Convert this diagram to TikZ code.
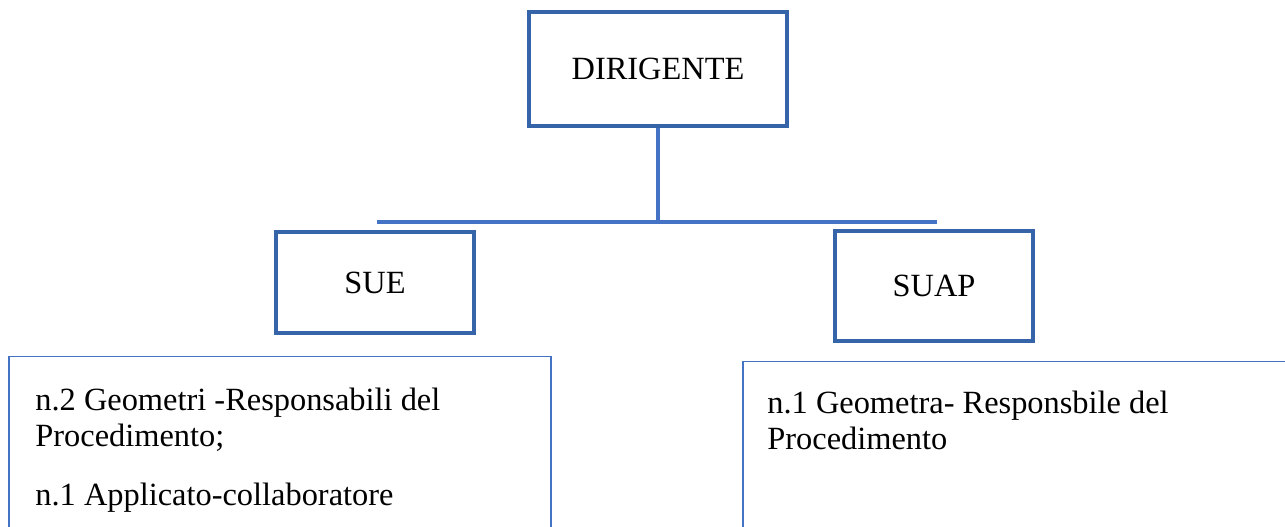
\documentclass[tikz,border=0pt]{standalone}
\usepackage{fontspec}
\setmainfont{Liberation Serif}
\definecolor{boxblue}{RGB}{54,100,168}
\definecolor{lineblue}{RGB}{68,114,196}
\begin{document}
\begin{tikzpicture}[x=0.5pt,y=-0.5pt,
  thickbox/.style={draw=boxblue,line width=2pt,inner sep=0pt},
  thinbox/.style={draw=lineblue,line width=0.8pt,inner sep=0pt,anchor=north west},
  conn/.style={draw=lineblue,line width=1.6pt},
  txt/.style={font=\fontsize{16.2}{18}\selectfont,inner sep=0pt},
  bodytxt/.style={txt,anchor=base west}]
\clip (0,0) rectangle (1285,526);
\fill[white] (0,0) rectangle (1285,526);
% top box
\node[thickbox,minimum width=129pt,minimum height=57pt] (dir) at (658,69) {};
\node[txt] (dirt) at (dir.center) {DIRIGENTE};
% second-level boxes
\node[thickbox,minimum width=99pt,minimum height=50.5pt] (sue) at (375,282.5) {};
\node[txt] (suet) at (sue.center) {SUE};
\node[thickbox,minimum width=99pt,minimum height=55pt] (suap) at (934,286) {};
\node[txt] (suapt) at (suap.center) {SUAP};
% connectors
\coordinate (jn) at (658,222);
\coordinate (hl) at (377,222);
\coordinate (hr) at (937,222);
\draw[conn] (dir.south) -- (jn);
\draw[conn] (hl) -- (hr);
% bottom boxes
\node[thinbox,minimum width=271pt,minimum height=100pt] (suebox) at (8,355.5) {};
\node[thinbox,minimum width=275pt,minimum height=100pt] (suapbox) at (742,360.5) {};
\node[bodytxt] (l1) at (35,410) {n.2 Geometri -Responsabili del};
\node[bodytxt] (l2) at (35,446) {Procedimento;};
\node[bodytxt] (l3) at (35,505) {n.1 Applicato-collaboratore};
\node[bodytxt] (r1) at (767,413) {n.1 Geometra- Responsbile del};
\node[bodytxt] (r2) at (767,449) {Procedimento};
\end{tikzpicture}
\end{document}
